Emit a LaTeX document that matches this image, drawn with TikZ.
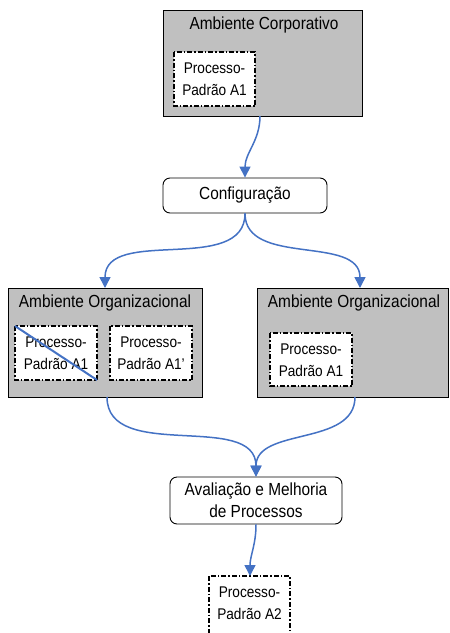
\documentclass[tikz,border=0pt]{standalone}
\usepackage{fontspec}
\setmainfont{Liberation Sans}
\usetikzlibrary{arrows.meta}
\definecolor{envgray}{RGB}{192,192,192}
\definecolor{flowblue}{RGB}{68,114,196}
\tikzset{
  env/.style={draw=black, fill=envgray, line width=1pt},
  proc/.style={draw=black, fill=white, line width=1.1pt, dash pattern=on 5pt off 2pt on 1.5pt off 2pt},
  stage/.style={draw=black, fill=white, rounded corners=7pt, line width=0.9pt},
  lbl/.style={font=\fontsize{17.5}{22}\selectfont, inner sep=0pt, align=center, xscale=0.88},
  plbl/.style={font=\fontsize{15.5}{22}\selectfont, inner sep=0pt, align=center, xscale=0.88},
  flow/.style={draw=flowblue, line width=1.5pt, -{Triangle[length=11pt,width=11pt]}},
}
\begin{document}
\begin{tikzpicture}[x=1pt,y=-1pt]
\useasboundingbox (0,0) rectangle (450,633);
% corporate environment
\draw[env] (163,10) rectangle (362,116);
\node[lbl] (corpT) at (264,25) {Ambiente Corporativo};
\draw[proc] (174,52) rectangle (255,106);
\node[plbl] (pA1c) at (214.5,79.5) {Processo-\\Padrão A1};
\coordinate (corpS) at (260,116);
% configuration stage
\node[stage, minimum width=164pt, minimum height=35pt, inner sep=0pt] (conf) at (245,195.5) {};
\node[lbl] at (conf.center) {Configuração};
% left organizational environment
\draw[env] (8,288) rectangle (202,397);
\node[lbl] (orgLT) at (105,303) {Ambiente Organizacional};
\draw[proc] (15,326) rectangle (97,380);
\node[plbl] (pA1l) at (56,353.5) {Processo-\\Padrão A1};
\draw[flowblue, line width=2pt] (15,326) -- (97,380);
\draw[proc] (110,326) rectangle (192,380);
\node[plbl] (pA1p) at (151,353.5) {Processo-\\Padrão A1'};
\coordinate (orgLN) at (105,288);
\coordinate (orgLS) at (107,397);
% right organizational environment
\draw[env] (257,288) rectangle (448,397);
\node[lbl] (orgRT) at (354,303) {Ambiente Organizacional};
\draw[proc] (270,333) rectangle (352,386);
\node[plbl] (pA1r) at (311,360) {Processo-\\Padrão A1};
\coordinate (orgRN) at (360,288);
\coordinate (orgRS) at (355,397);
% evaluation stage
\node[stage, minimum width=172pt, minimum height=47pt, inner sep=0pt] (eval) at (256,500.5) {};
\node[lbl] at (eval.center) {Avaliação e Melhoria\\de Processos};
% new standard process
\draw[proc] (209,576) rectangle (290,640);
\node[plbl] (pA2) at (249.5,603.5) {Processo-\\Padrão A2};
\coordinate (pA2N) at (250,576);
% flows
\draw[flow] (corpS) to[out=-90,in=90] (conf.north);
\draw[flow] (conf.south) to[out=-90,in=90] (orgLN);
\draw[flow] (conf.south) to[out=-90,in=90] (orgRN);
\draw[flow] (orgLS) to[out=-90,in=90] (eval.north);
\draw[flow] (orgRS) to[out=-90,in=90] (eval.north);
\draw[flow] (eval.south) to[out=-90,in=90] (pA2N);
\end{tikzpicture}
\end{document}
